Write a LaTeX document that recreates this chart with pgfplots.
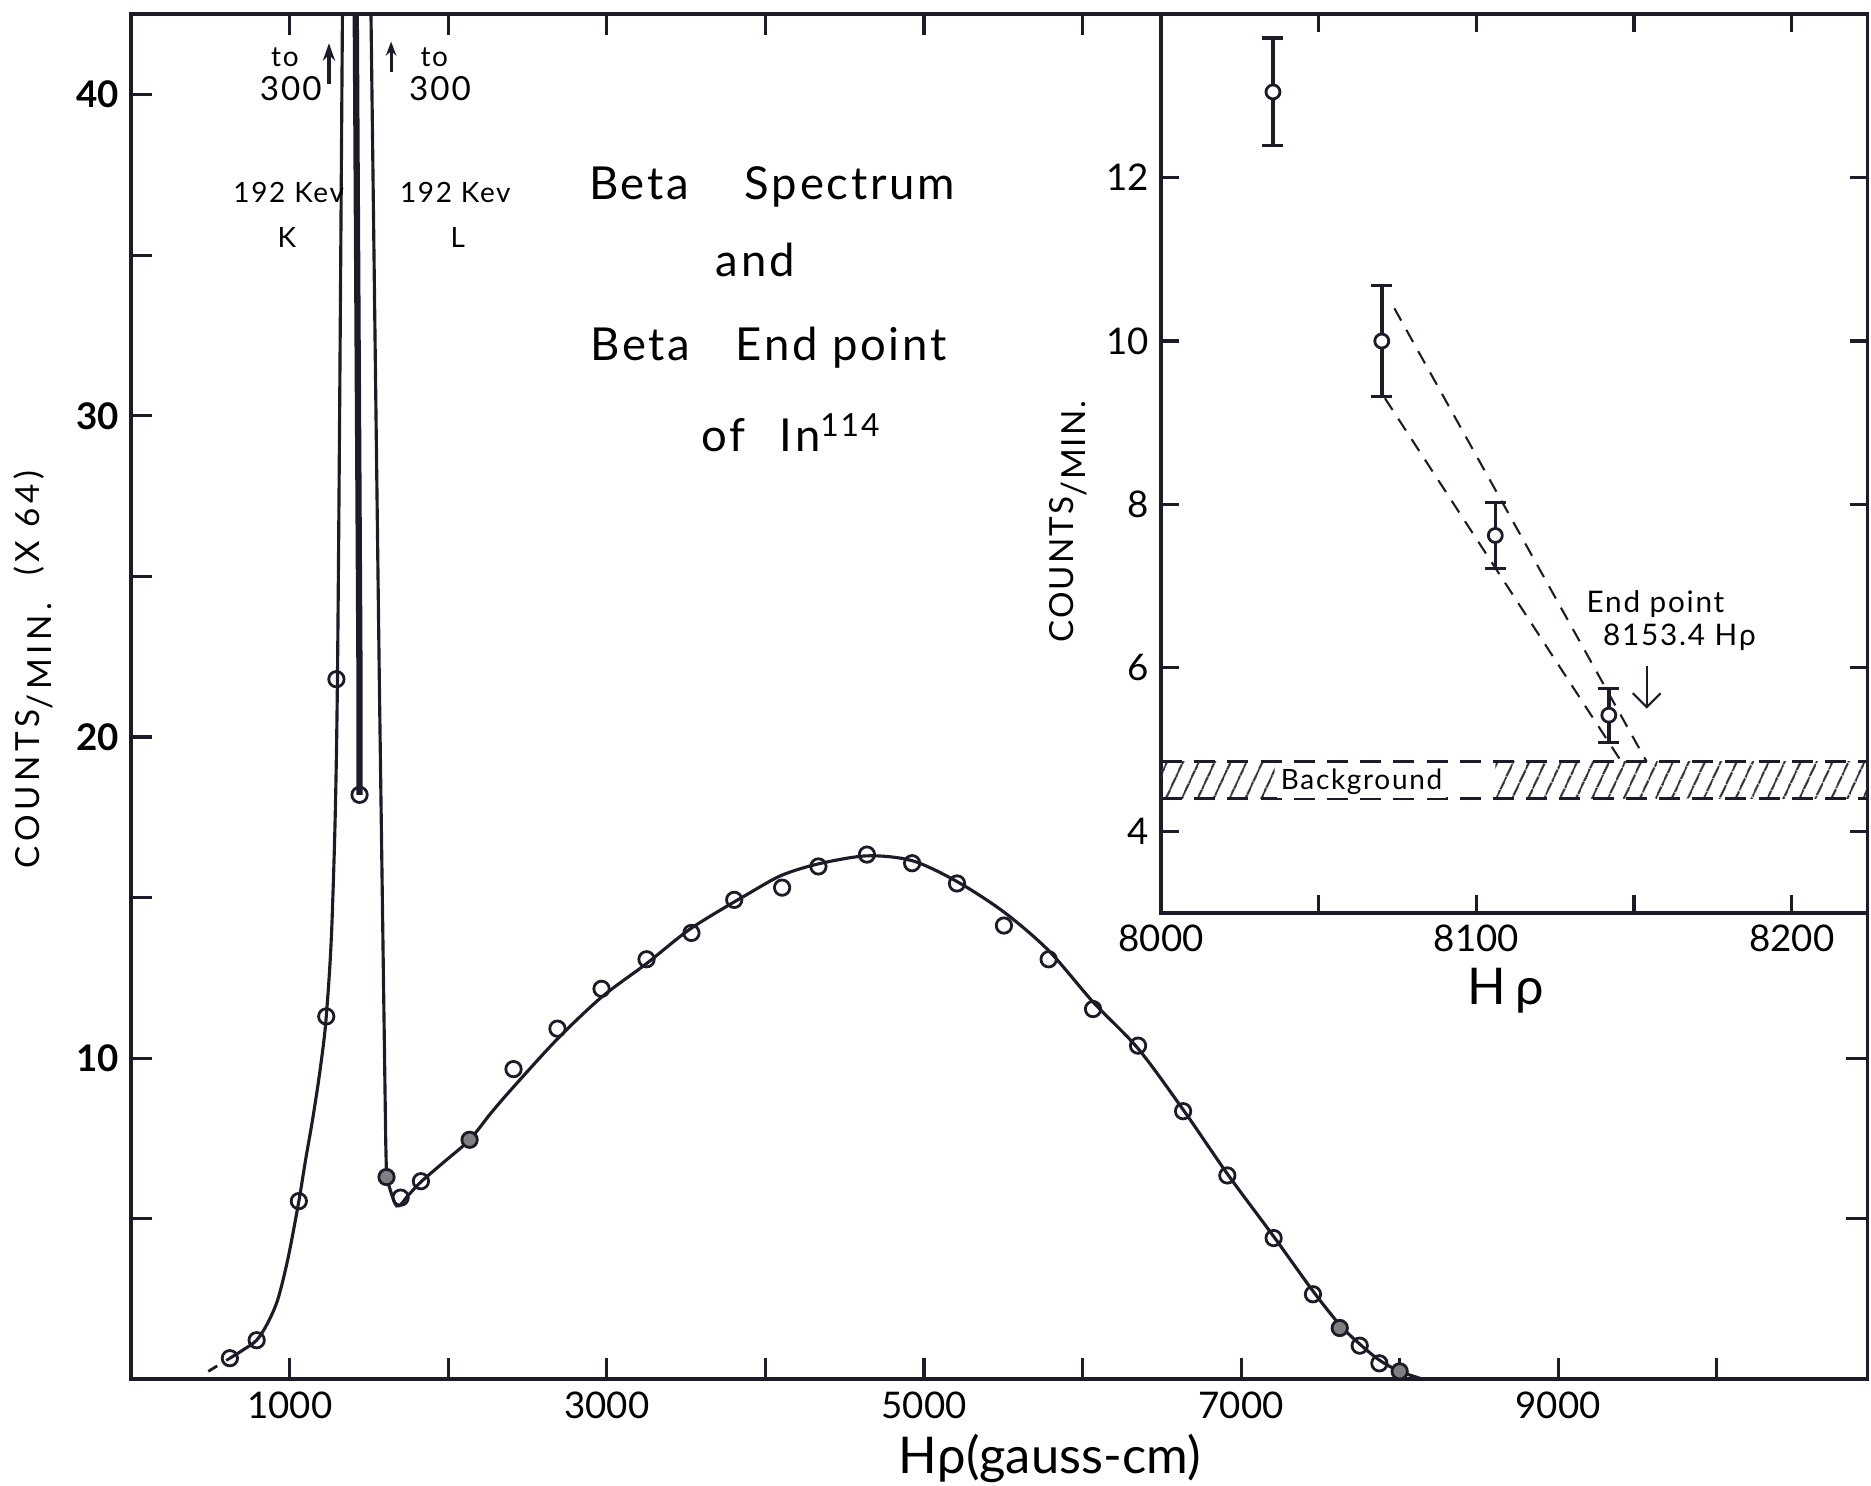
\documentclass[border=0pt]{standalone}
\usepackage{fontspec}
\setmainfont{Lato}
\newfontfamily\wide[LetterSpace=6]{Lato}
\newfontfamily\wider[LetterSpace=14]{Lato}
\usepackage{pgfplots}
\pgfplotsset{compat=1.18}
\usetikzlibrary{arrows.meta,patterns.meta}
\definecolor{ink}{RGB}{28,28,40}

\begin{document}
\begin{tikzpicture}
\path[use as bounding box] (0,0) rectangle (18.816cm,14.94cm);

% main spectrum
\begin{axis}[
  at={(1.32cm,1.068cm)}, anchor=south west,
  width=17.46cm, height=13.728cm, scale only axis,
  xmin=0, xmax=10950, ymin=0, ymax=42.5,
  scaled ticks=false,
  axis line style={ink, line width=1.1pt},
  tick style={ink, line width=0.9pt},
  tick align=inside, major tick length=6pt,
  xtick={1000,2000,...,10000},
  xticklabels={1000,,3000,,5000,,7000,,9000,},
  ytick={5,10,...,40},
  yticklabels={,10,,20,,30,,40},
  xticklabel style={font=\fontsize{10.5}{12}\selectfont},
  yticklabel style={font=\bfseries\fontsize{10.5}{12}\selectfont},
  xlabel={Hρ(gauss-cm)},
  xlabel style={at={(axis description cs:0.529,-0.0577)}, anchor=center, font=\fontsize{14.5}{16}\selectfont},
  ylabel={COUNTS\raisebox{-0.7ex}{/MIN.}\hspace{0.8em}(X 64)},
  ylabel style={at={(axis description cs:-0.0564,0.52)}, anchor=center, font=\wider\fontsize{9.5}{11}\selectfont},
]
% low-energy side of the K line
\addplot[ink, line width=0.8pt, dashed] coordinates {(486,0.25) (622,0.66)};
\addplot[ink, line width=0.9pt, smooth, tension=0.5] coordinates {
  (622,0.66) (700,0.9) (791,1.22) (860,1.75) (925,2.5) (990,3.8) (1057,5.55)
  (1100,6.85) (1144,8.1) (1190,9.6) (1230,11.3) (1268,14.5) (1300,21.6)
  (1332,42.5) (1336,45)};
% between the conversion lines
\addplot[ink, line width=1.8pt] coordinates {(1413,45) (1416,42.5) (1440,21.5) (1440,18.2)};
\addplot[ink, line width=0.9pt] coordinates {(1508,45) (1512,42.5) (1565,21.6) (1605,7.4) (1610,6.3)};
% continuous spectrum
\addplot[ink, line width=0.9pt, smooth, tension=0.5] coordinates {
  (1610,6.3) (1674,5.4) (1750,5.75) (1827,6.15) (1980,6.8) (2134,7.46)
  (2270,8.3) (2410,9.1) (2688,10.6) (2966,11.9) (3251,12.95) (3533,14.05)
  (3902,15.15) (4105,15.7) (4334,16.05) (4640,16.3) (4925,16.15) (5208,15.5)
  (5504,14.55) (5786,13.35) (6066,11.75) (6350,10.3) (6634,8.4) (6913,6.4)
  (7205,4.45) (7453,2.75) (7622,1.7) (7748,1.1) (7872,0.6) (8000,0.25) (8150,0)};
% measured points
\addplot[only marks, mark=o, mark size=2.2pt, mark options={ink, line width=0.8pt}] coordinates {
  (622,0.66) (791,1.22) (1057,5.55) (1230,11.3) (1294,21.8) (1440,18.2)
  (1699,5.66) (1827,6.17) (2411,9.66) (2688,10.92) (2966,12.16) (3250,13.08)
  (3533,13.9) (3803,14.93) (4105,15.31) (4334,15.97) (4640,16.34) (4925,16.07)
  (5208,15.44) (5504,14.13) (5786,13.08) (6066,11.53) (6350,10.39) (6634,8.35)
  (6913,6.35) (7205,4.4) (7453,2.65) (7748,1.05) (7872,0.5)};
\addplot[only marks, mark=*, mark size=2.2pt, mark options={draw=ink, fill=gray, line width=0.8pt}] coordinates {
  (1610,6.3) (2134,7.46) (7622,1.6) (8000,0.25)};
% annotations
\node[font=\wide\fontsize{13}{15}\selectfont, anchor=base] at (axis cs:4041,36.74) {Beta\hspace{16pt}Spectrum};
\node[font=\wide\fontsize{13}{15}\selectfont, anchor=base] at (axis cs:3936,34.33) {and};
\node[font=\wide\fontsize{13}{15}\selectfont, anchor=base] at (axis cs:4019,31.73) {Beta\hspace{13pt}End point};
\node[font=\wide\fontsize{13}{15}\selectfont, anchor=base] at (axis cs:4162,28.88) {of\hspace{10pt}In\textsuperscript{114}};
\node[font=\wide\fontsize{8}{9}\selectfont, anchor=base] at (axis cs:969,40.86) {to};
\node[font=\wide\fontsize{9.5}{11}\selectfont, anchor=base] at (axis cs:1006,39.82) {300};
\node[font=\wide\fontsize{8}{9}\selectfont, anchor=base] at (axis cs:1911,40.86) {to};
\node[font=\wide\fontsize{9.5}{11}\selectfont, anchor=base] at (axis cs:1948,39.82) {300};
\draw[ink, line width=1.2pt, -{Stealth[length=5pt,width=3.5pt]}] (axis cs:1247,40.33) -- (axis cs:1247,41.6);
\draw[ink, line width=0.8pt, -{Stealth[length=4pt,width=3pt]}] (axis cs:1639,40.69) -- (axis cs:1639,41.65);
\node[font=\wide\fontsize{8}{9}\selectfont, anchor=base] at (axis cs:993,36.65) {192 Kev};
\node[font=\wide\fontsize{8}{9}\selectfont, anchor=base] at (axis cs:982,35.25) {K};
\node[font=\wide\fontsize{8}{9}\selectfont, anchor=base] at (axis cs:2044,36.65) {192 Kev};
\node[font=\wide\fontsize{8}{9}\selectfont, anchor=base] at (axis cs:2059,35.25) {L};
\end{axis}

% inset: end point region
\begin{axis}[
  at={(11.676cm,5.76cm)}, anchor=south west,
  width=7.104cm, height=9.036cm, scale only axis,
  xmin=8000, xmax=8224, ymin=3, ymax=14,
  scaled ticks=false,
  axis background/.style={fill=white},
  axis line style={ink, line width=1.1pt},
  tick style={ink, line width=0.9pt},
  tick align=inside, major tick length=5pt,
  xtick={8000,8050,...,8200},
  xticklabels={8000,,8100,,8200},
  ytick={4,6,...,12},
  yticklabels={4,6,8,10,12},
  ticklabel style={font=\fontsize{10.5}{12}\selectfont},
  xlabel={H\,ρ},
  xlabel style={at={(axis description cs:0.488,-0.0863)}, anchor=center, font=\fontsize{14.5}{16}\selectfont},
  ylabel={COUNTS\raisebox{-0.7ex}{/MIN.}},
  ylabel style={at={(axis description cs:-0.1318,0.4356)}, anchor=center, font=\wide\fontsize{9.5}{11}\selectfont},
]
% background band
\addplot[draw=none, pattern={Lines[angle=65,distance=4pt,line width=0.6pt]}, pattern color=ink]
  coordinates {(8000,4.4) (8036,4.4) (8036,4.85) (8000,4.85)} -- cycle;
\addplot[draw=none, pattern={Lines[angle=65,distance=4pt,line width=0.6pt]}, pattern color=ink]
  coordinates {(8106,4.4) (8224,4.4) (8224,4.85) (8106,4.85)} -- cycle;
\addplot[ink, line width=0.7pt, dash pattern=on 6pt off 3.5pt] coordinates {(8000,4.85) (8224,4.85)};
\addplot[ink, line width=0.7pt, dash pattern=on 6pt off 3.5pt] coordinates {(8000,4.4) (8224,4.4)};
% extrapolation lines
\addplot[ink, line width=0.6pt, dash pattern=on 4pt off 3pt] coordinates {(8074,10.4) (8154,4.85)};
\addplot[ink, line width=0.6pt, dash pattern=on 4pt off 3pt] coordinates {(8071,9.3) (8146,4.85)};
% points with statistical errors
\addplot[only marks, mark=*, mark size=2pt, mark options={draw=ink, fill=white, line width=0.8pt},
  error bars/.cd, y dir=both, y explicit,
  error bar style={ink, line width=1pt},
  error mark options={ink, rotate=90, mark size=3pt, line width=0.9pt}]
  table[x=x, y=y, y error=e] {
  x     y     e
  8035.5 13.05 0.66
  8070  10.0  0.68
  8106  7.62  0.40
  8142  5.42  0.33
};
\node[font=\wide\fontsize{8}{9}\selectfont, fill=white, inner sep=1pt] at (axis cs:8063.6,4.6) {Background};
\node[font=\wide\fontsize{8.5}{10}\selectfont, anchor=base] at (axis cs:8156.8,6.68) {End point};
\node[font=\wide\fontsize{8.5}{10}\selectfont, anchor=base] at (axis cs:8164.4,6.27) {8153.4 Hρ};
\draw[ink, line width=0.6pt, -{Straight Barb[length=4pt]}] (axis cs:8154,6.02) -- (axis cs:8154,5.5);
\end{axis}
\end{tikzpicture}
\end{document}
